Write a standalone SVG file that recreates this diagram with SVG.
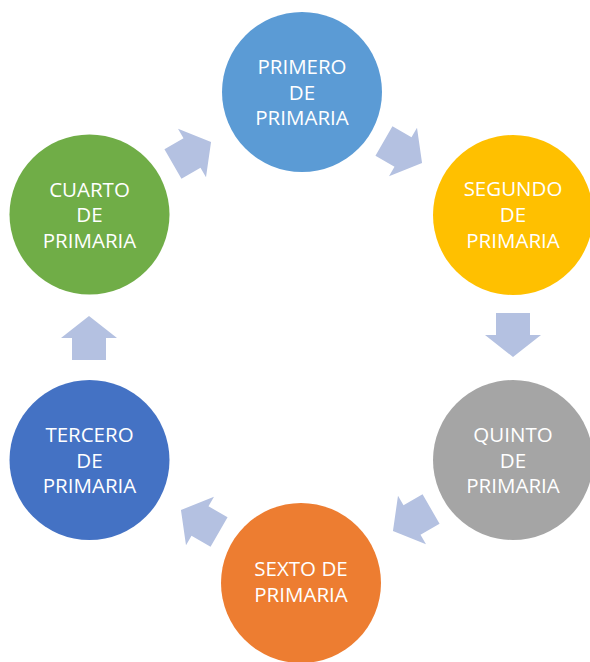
<svg xmlns="http://www.w3.org/2000/svg" width="590" height="662" viewBox="0 0 590 662">
<defs>
<style>
.lbl{font-family:"Open Sans","Liberation Sans",sans-serif;font-size:20.5px;fill:#ffffff;text-anchor:middle}
.arr{fill:#b4c1e1}
</style>
<polygon id="arrow" points="-22,-17 0,-17 0,-28 22,0 0,28 0,17 -22,17"/>
</defs>
<rect width="590" height="662" fill="#ffffff"/>
<g id="connectors" class="arr">
<use href="#arrow" transform="translate(403,152) rotate(30)"/>
<use href="#arrow" transform="translate(513,335) rotate(90)"/>
<use href="#arrow" transform="translate(412,520) rotate(150)"/>
<use href="#arrow" transform="translate(200,521) rotate(210)"/>
<use href="#arrow" transform="translate(89,338) rotate(-90)"/>
<use href="#arrow" transform="translate(192,153) rotate(-30)"/>
</g>
<g id="primero">
<circle cx="302" cy="92" r="80" fill="#5b9bd5"/>
<text class="lbl" x="302" y="74">PRIMERO</text>
<text class="lbl" x="302" y="99.5">DE</text>
<text class="lbl" x="302" y="125">PRIMARIA</text>
</g>
<g id="segundo">
<circle cx="513" cy="215" r="80" fill="#ffc000"/>
<text class="lbl" x="513" y="196">SEGUNDO</text>
<text class="lbl" x="513" y="222">DE</text>
<text class="lbl" x="513" y="248">PRIMARIA</text>
</g>
<g id="quinto">
<circle cx="513" cy="460" r="80" fill="#a5a5a5"/>
<text class="lbl" x="513" y="442">QUINTO</text>
<text class="lbl" x="513" y="467.5">DE</text>
<text class="lbl" x="513" y="493">PRIMARIA</text>
</g>
<g id="sexto">
<circle cx="301" cy="583" r="80" fill="#ed7d31"/>
<text class="lbl" x="301" y="576">SEXTO DE</text>
<text class="lbl" x="301" y="602">PRIMARIA</text>
</g>
<g id="tercero">
<circle cx="89.5" cy="460" r="80" fill="#4472c4"/>
<text class="lbl" x="89.5" y="442">TERCERO</text>
<text class="lbl" x="89.5" y="467.5">DE</text>
<text class="lbl" x="89.5" y="493">PRIMARIA</text>
</g>
<g id="cuarto">
<circle cx="89.5" cy="214.5" r="80" fill="#70ad47"/>
<text class="lbl" x="89.5" y="196.5">CUARTO</text>
<text class="lbl" x="89.5" y="222">DE</text>
<text class="lbl" x="89.5" y="247.5">PRIMARIA</text>
</g>
</svg>
